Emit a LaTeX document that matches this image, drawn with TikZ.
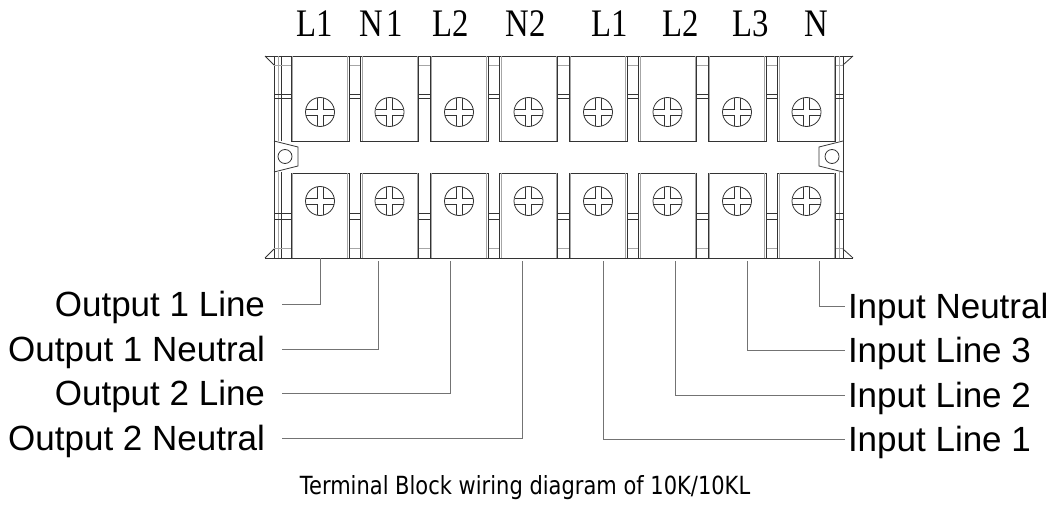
\documentclass[tikz,border=0pt]{standalone}
\usepackage{fontspec}
\setmainfont{Liberation Sans}
\newfontfamily\serifnum{Liberation Serif}
\newfontfamily\capfont{DejaVu Sans}
\usetikzlibrary{positioning}

% plus-shaped slot of a screw head
\newcommand{\screwcross}[1]{%
  \draw[edge] (#1) ++(3,-13.6) -- ++(0,10.6) -- ++(10.6,0)
    (#1) ++(13.6,3) -- ++(-10.6,0) -- ++(0,10.6)
    (#1) ++(-3,13.6) -- ++(0,-10.6) -- ++(-10.6,0)
    (#1) ++(-13.6,-3) -- ++(10.6,0) -- ++(0,-10.6);}

\begin{document}
\begin{tikzpicture}[x=1pt, y=-1pt,
    edge/.style={draw=black!80, line width=0.8pt},
    faint/.style={draw=black!35, line width=0.8pt},
    termbox/.style={rectangle, edge, minimum width=58pt, minimum height=85pt, inner sep=0pt},
    screw/.style={circle, edge, minimum size=29pt, inner sep=0pt},
    wire/.style={draw=black!55, line width=0.9pt},
    toplbl/.style={font=\serifnum\fontsize{39}{39}\selectfont, anchor=base, xscale=0.84, inner sep=0pt},
    sidelbl/.style={font=\fontsize{35}{35}\selectfont, text height=25pt, text depth=0pt, inner sep=0pt},
    outlbl/.style={sidelbl, outer xsep=17pt, anchor=east},
    inlbl/.style={sidelbl, outer xsep=3pt, anchor=west},
    caption/.style={font=\capfont\fontsize{25}{25}\selectfont, anchor=base, xscale=0.84, inner sep=0pt}
]
\useasboundingbox (0,0) rectangle (1062,505);

% block outline
\draw[edge] (265,56) -- (853,56) (265,258) -- (853,258);
\draw[edge] (265,56) -- (274,65) (265,258) -- (274,249);
\draw[edge] (853,56) -- (843,65) (853,258) -- (843,249);
\draw[edge] (274,56) -- (274,258) (843,56) -- (843,258);
\draw[faint] (278,56) -- (278,141) (278,172) -- (278,258);
\draw[edge] (281,56) -- (281,141) (281,172) -- (281,258);
\draw[faint] (839,56) -- (839,141) (839,172) -- (839,258);

% mounting ears
\draw[edge] (274,141) -- (298,147) -- (298,166) -- (274,172);
\draw[edge] (285,156.5) circle (7pt);
\draw[edge] (843,141) -- (819,147) -- (819,166) -- (843,172);
\draw[edge] (832,156.5) circle (7pt);

% separator bars
\foreach \xa/\xb in {274/291, 349/360.5, 418.5/430, 488/499.5, 557.5/569, 627/638.5, 696.5/708, 766/777.5, 835.5/843} {
  \draw[faint] (\xa,65) -- (\xb,65) (\xa,248) -- (\xb,248);
  \draw[edge] (\xa,94) -- (\xb,94) (\xa,98) -- (\xb,98) (\xa,213) -- (\xb,213) (\xa,219) -- (\xb,219);
}

% terminals
\foreach \i in {0,...,7} {
  \node[termbox] (u\i) at ({320+69.5*\i},98.5) {};
  \node[termbox] (b\i) at ({320+69.5*\i},215.5) {};
  \draw[faint] ([xshift=2pt]u\i.north west) -- ([xshift=2pt]u\i.south west)
    ([xshift=-2pt]u\i.north east) -- ([xshift=-2pt]u\i.south east)
    ([xshift=2pt]b\i.north west) -- ([xshift=2pt]b\i.south west)
    ([xshift=-2pt]b\i.north east) -- ([xshift=-2pt]b\i.south east);
  \node[screw] (su\i) at ({320+69.5*\i},112) {};
  \node[screw] (sb\i) at ({320+69.5*\i},201) {};
  \screwcross{su\i}
  \screwcross{sb\i}
}

% terminal names
\node[toplbl] (tagL1) at (315,37) {L1};
\node[toplbl] (tagN1) at (381,37) {N\kern4pt1};
\node[toplbl] (tagL2) at (451,37) {L2};
\node[toplbl] (tagN2) at (526,37) {N2};
\node[toplbl] (tagIL1) at (610,37) {L1};
\node[toplbl] (tagIL2) at (681,37) {L2};
\node[toplbl] (tagIL3) at (751,37) {L3};
\node[toplbl] (tagIN) at (816,37) {N};

% wire ends
\coordinate (w1) at (320,258);
\coordinate (w2) at (378,261);
\coordinate (w3) at (450,261);
\coordinate (w4) at (522,261);
\coordinate (w5) at (603,261);
\coordinate (w6) at (675,261);
\coordinate (w7) at (747,261);
\coordinate (w8) at (819,261);

\node[outlbl] (out1L) at (282,304) {Output 1 Line};
\node[outlbl] (out1N) at (282,349) {Output 1 Neutral};
\node[outlbl] (out2L) at (282,393) {Output 2 Line};
\node[outlbl] (out2N) at (282,438) {Output 2 Neutral};
\node[inlbl] (inN) at (845,306) {Input Neutral};
\node[inlbl] (in3) at (845,350) {Input Line 3};
\node[inlbl] (in2) at (845,395) {Input Line 2};
\node[inlbl] (in1) at (845,439) {Input Line 1};

\draw[wire] (w1) |- (out1L.east);
\draw[wire] (w2) |- (out1N.east);
\draw[wire] (w3) |- (out2L.east);
\draw[wire] (w4) |- (out2N.east);
\draw[wire] (w5) |- (in1.west);
\draw[wire] (w6) |- (in2.west);
\draw[wire] (w7) |- (in3.west);
\draw[wire] (w8) |- (inN.west);

\node[caption] (cap) at (525,494) {Terminal Block wiring diagram of 10K/10KL};
\end{tikzpicture}
\end{document}
